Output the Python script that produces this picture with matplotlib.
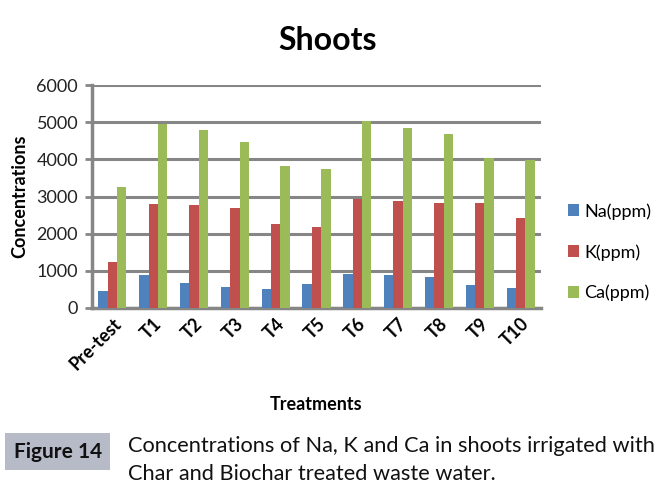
import numpy as np
import matplotlib; matplotlib.use("Agg")
import matplotlib.pyplot as plt
from matplotlib.patches import Rectangle

plt.rcParams["font.family"] = ["Lato", "DejaVu Sans"]

GRID = "#868686"
NA_C, K_C, CA_C = "#4F81BD", "#C0504D", "#9BBB59"

treatments = ["Pre-test", "T1", "T2", "T3", "T4", "T5", "T6", "T7", "T8", "T9", "T10"]
na = [460, 890, 670, 565, 510, 645, 915, 890, 835, 620, 540]
k = [1240, 2800, 2770, 2690, 2260, 2180, 2935, 2880, 2825, 2825, 2420]
ca = [3255, 4950, 4790, 4465, 3820, 3740, 5020, 4845, 4680, 4035, 3980]
series = [("Na(ppm)", na, NA_C), ("K(ppm)", k, K_C), ("Ca(ppm)", ca, CA_C)]
yticks = [0, 1000, 2000, 3000, 4000, 5000, 6000]

fig = plt.figure(figsize=(6.72, 5.01), dpi=100)
fig.patch.set_facecolor("white")
ax = fig.add_axes([92/672, 1-308/501, 449/672, 223/501])

x = np.arange(len(treatments)); w = 0.23
for i, (name, vals, col) in enumerate(series):
    ax.bar(x + (i-1)*w, vals, width=w, color=col, label=name, zorder=3)

ax.set_xlim(-0.5, len(treatments)-0.5); ax.set_ylim(0, 6000)
ax.set_yticks(yticks); ax.set_yticklabels([str(v) for v in yticks], fontsize=13, color="#222")
ax.yaxis.grid(True, color=GRID, lw=2.2, zorder=0)
ax.tick_params(axis="y", length=5, width=2, color=GRID, pad=5)
ax.tick_params(axis="x", length=0, pad=5)
ax.set_xticks(x)
ax.set_xticklabels(treatments, rotation=45, ha="right", rotation_mode="anchor", fontsize=13, fontweight="bold")
for s in ["top", "right"]: ax.spines[s].set_visible(False)
ax.spines["left"].set_color(GRID); ax.spines["left"].set_linewidth(2.5)
ax.spines["bottom"].set_color(GRID); ax.spines["bottom"].set_linewidth(2.5)
ax.set_ylabel("Concentrations", fontsize=13, fontweight="bold", labelpad=6)

fig.text(316/672, 1-405/501, "Treatments", ha="center", va="center", fontsize=13, fontweight="bold")
fig.text(328/672, 1-40/501, "Shoots", ha="center", va="center", fontsize=23, fontweight="bold")
ax.legend(loc="center left", bbox_to_anchor=(1.06, 0.25), frameon=False, fontsize=13, borderaxespad=0,
          borderpad=0, handlelength=0.6, handleheight=0.6, handletextpad=0.3, labelspacing=1.35)

fig.patches.append(Rectangle((5/672, 1-470/501), 105/672, 37/501, transform=fig.transFigure,
                             facecolor="#b7bbc8", edgecolor="none"))
fig.text(58/672, 1-452/501, "Figure 14", ha="center", va="center", fontsize=15, fontweight="bold", color="#111")
fig.text(128/672, 1-446/501, "Concentrations of Na, K and Ca in shoots irrigated with", ha="left", va="center", fontsize=15.7, color="#111")
fig.text(128/672, 1-474/501, "Char and Biochar treated waste water.", ha="left", va="center", fontsize=15.7, color="#111")

fig.savefig("out.png", dpi=100, facecolor="white")
